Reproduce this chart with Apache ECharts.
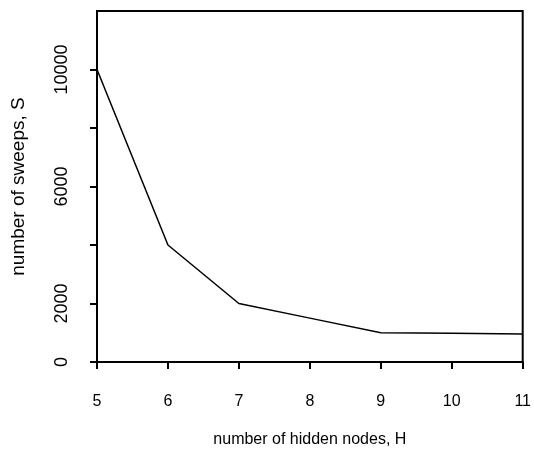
<!DOCTYPE html>
<html>
<head>
<meta charset="utf-8">
<script src="https://cdn.jsdelivr.net/npm/echarts@6/dist/echarts.min.js"></script>
<style>
  html, body { margin: 0; padding: 0; background: #fff; }
  #chart { width: 534px; height: 454px; }
</style>
</head>
<body>
<div id="chart"></div>
<script>
// hidden nodes H vs sweeps S
const hiddenNodes = [5, 6, 7, 8, 9, 10, 11];
const sweeps = [10000, 4000, 2000, 1500, 1000, 980, 960];
const yLabelsShown = [0, 2000, 6000, 10000];

const myChart = echarts.init(document.getElementById('chart'));
const font = 'Liberation Sans, Arial, sans-serif';

const option = {
  animation: false,
  grid: {
    left: 97,
    right: 8,
    top: 11,
    bottom: 92,
    show: true,
    borderColor: '#000',
    borderWidth: 2
  },
  xAxis: {
    type: 'value',
    min: 5,
    max: 11,
    interval: 1,
    name: 'number of hidden nodes, H',
    nameLocation: 'middle',
    nameGap: 70,
    nameTextStyle: { color: '#000', fontSize: 16, fontFamily: font },
    axisLine: { lineStyle: { color: '#000', width: 2 } },
    axisTick: { show: true, length: 7, lineStyle: { color: '#000', width: 2 } },
    axisLabel: { color: '#000', fontSize: 16, fontFamily: font, margin: 32 },
    splitLine: { show: false }
  },
  yAxis: {
    type: 'value',
    min: 0,
    max: 12000,
    interval: 2000,
    name: 'number of sweeps, S',
    nameLocation: 'middle',
    nameGap: 69,
    nameTextStyle: { color: '#000', fontSize: 19, fontFamily: font },
    axisLine: { lineStyle: { color: '#000', width: 2 } },
    axisTick: { show: true, length: 7, lineStyle: { color: '#000', width: 2 } },
    axisLabel: {
      color: '#000', fontSize: 18, fontFamily: font, margin: 26, rotate: 90,
      showMaxLabel: false,
      formatter: (v) => yLabelsShown.indexOf(v) >= 0 ? String(v) : ''
    },
    splitLine: { show: false }
  },
  series: [
    {
      type: 'line',
      data: hiddenNodes.map((h, i) => [h, sweeps[i]]),
      showSymbol: false,
      lineStyle: { color: '#000', width: 1.5 }
    }
  ]
};

myChart.setOption(option);
</script>
</body>
</html>
